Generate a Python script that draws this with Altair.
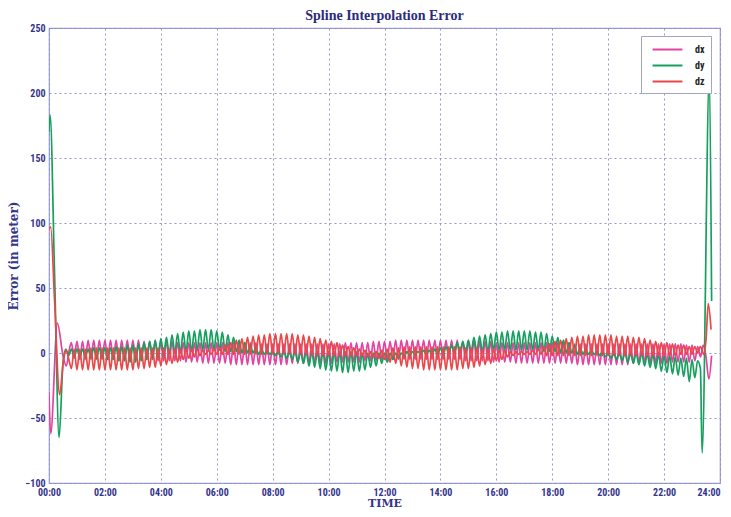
import altair as alt
import pandas as pd

SERIES = ["dx", "dy", "dz"]
COLORS = ["#e2449f", "#16a05e", "#ea4848"]
X_TICKS = [0, 2, 4, 6, 8, 10, 12, 14, 16, 18, 20, 22, 24]
Y_TICKS = [-100, -50, 0, 50, 100, 150, 200, 250]

# ---- start transient (hours, metres) ----
DX_START_T = [0.0, 0.06, 0.30, 0.50, 0.62, 0.72]
DX_START_V = [-30, -62, 23, -2, -10, 2]
DY_START_T = [0.0, 0.04, 0.20, 0.36, 0.50, 0.60, 0.70]
DY_START_V = [170, 183, 60, -65, -8, 3, -2]
DZ_START_T = [0.0, 0.06, 0.20, 0.38, 0.52, 0.62, 0.72]
DZ_START_V = [95, 97, 40, -32, -5, 2, -6]

# ---- end transient ----
DX_END_T = [23.30, 23.40, 23.50, 23.60, 23.70]
DX_END_V = [-3, 6, -3, -20, -2]
DY_END_T = [23.30, 23.36, 23.62, 23.70]
DY_END_V = [-12, -77, 214, 40]
DZ_END_T = [23.30, 23.42, 23.50, 23.58, 23.68]
DZ_END_V = [5, -1, 10, 38, 18]

# ---- oscillation extremes 00:48 .. 23:12 ----
# dx peaks at 0.8, 1.0, ... 23.2 ; troughs at 0.9, 1.1, ... 23.1
DX_PEAKS = [8, 9, 9, 10, 10, 10, 10, 10, 10, 10, 10, 10, 10, 9, 9,
            9, 9, 9, 9, 8, 8, 8, 8, 8, 8, 8, 8, 8, 8, 8,
            8, 8, 8, 8, 7, 7, 7, 7, 7, 7, 7, 7, 7, 7, 7,
            7, 7, 7, 7, 8, 8, 8, 8, 8, 9, 9, 9, 9, 10, 10,
            10, 10, 10, 10, 10, 10, 10, 10, 10, 10, 9, 9, 9, 9, 9,
            9, 8, 8, 8, 8, 8, 8, 8, 8, 8, 8, 8, 8, 8, 7,
            7, 7, 7, 7, 7, 7, 7, 7, 7, 7, 7, 7, 7, 7, 7,
            7, 7, 7, 7, 7, 6, 6, 5]
DX_TROUGHS = [-4, -5, -5, -5, -5, -5, -5, -5, -5, -5, -5, -5, -5, -5, -5,
              -6, -6, -6, -6, -6, -7, -7, -7, -8, -8, -8, -8, -8, -9, -9,
              -9, -9, -9, -9, -9, -9, -9, -9, -9, -8, -8, -8, -8, -8, -8,
              -8, -8, -7, -7, -7, -7, -7, -6, -6, -6, -5, -5, -5, -5, -5,
              -5, -5, -5, -5, -5, -5, -5, -5, -5, -5, -6, -6, -6, -6, -6,
              -7, -7, -7, -7, -8, -8, -8, -8, -8, -8, -8, -8, -8, -8, -8,
              -9, -9, -9, -9, -9, -9, -9, -9, -9, -9, -8, -8, -8, -8, -8,
              -8, -8, -7, -7, -7, -7, -6]

# dy peaks at 0.8 ... 23.2 ; troughs at 0.9 ... 23.1
DY_PEAKS = [3, 3, 3, 3, 4, 4, 4, 4, 5, 5, 6, 6, 7, 8, 9,
            10, 11, 12, 14, 15, 16, 17, 17, 18, 18, 18, 17, 16, 14, 12,
            10, 8, 6, 4, 3, 2, 1, 1, 1, 1, 1, 1, 1, 1, 1,
            1, 1, 1, 1, 1, 1, 1, 0, 0, 0, 0, 0, 0, 0, 0,
            1, 1, 1, 2, 2, 3, 4, 5, 6, 8, 9, 10, 12, 13, 14,
            15, 16, 16, 17, 17, 17, 17, 17, 16, 16, 15, 13, 12, 10, 8,
            6, 4, 3, 2, 1, 1, 0, 0, 0, 0, 0, 0, 0, -1, -1,
            -1, -2, -2, -3, -4, -4, -5, -6]
DY_TROUGHS = [-3, -3, -3, -4, -4, -4, -5, -5, -6, -6, -7, -7, -6, -5, -4,
              -3, -2, -1, 0, 0, 1, 1, 2, 2, 2, 2, 2, 1, 1, 1,
              0, 0, 0, -1, -1, -1, -2, -3, -4, -5, -7, -8, -10, -11, -12,
              -13, -14, -14, -15, -15, -14, -14, -13, -11, -10, -8, -7, -5, -4, -3,
              -2, -1, -1, -1, -1, -1, -1, 0, 0, 0, 0, 1, 1, 1, 1,
              2, 2, 2, 2, 2, 2, 2, 2, 2, 1, 1, 1, 0, 0, 0,
              -1, -1, -1, -1, -2, -3, -4, -5, -6, -7, -8, -9, -10, -11, -12,
              -14, -15, -16, -17, -18, -22, -19]

# dz troughs at 0.8 ... 23.2 ; peaks at 0.9 ... 23.1 (opposite phase to dx)
DZ_TROUGHS = [-12, -13, -13, -13, -13, -13, -13, -13, -13, -13, -13, -13, -12, -12, -11,
              -11, -10, -9, -8, -7, -5, -4, -3, -2, -1, -1, -1, -1, -1, -1,
              -1, -1, -1, -1, -1, -1, -1, -1, -1, -1, -1, -1, -1, -2, -2,
              -2, -2, -2, -2, -2, -2, -2, -2, -3, -3, -4, -5, -7, -8, -10,
              -11, -12, -12, -13, -13, -13, -13, -13, -13, -13, -12, -12, -11, -10, -9,
              -8, -6, -5, -3, -2, -1, -1, -1, -1, -1, -2, -2, -2, -2, -2,
              -2, -2, -2, -2, -2, -2, -2, -2, -2, -2, -2, -2, -2, -2, -2,
              -2, -2, -2, -2, -1, -1, -1, 0]
DZ_PEAKS = [3, 3, 3, 4, 4, 4, 4, 4, 4, 4, 4, 4, 4, 4, 4,
            4, 4, 3, 3, 3, 3, 3, 3, 2, 2, 3, 4, 6, 8, 10,
            11, 12, 13, 14, 14, 15, 15, 15, 15, 15, 14, 14, 13, 12, 11,
            10, 9, 8, 6, 5, 4, 3, 2, 1, 1, 2, 3, 4, 4, 5,
            5, 5, 5, 5, 5, 5, 5, 5, 5, 5, 4, 4, 4, 3, 3,
            3, 2, 2, 1, 1, 1, 1, 2, 3, 5, 7, 9, 10, 11, 12,
            13, 13, 14, 14, 14, 14, 14, 13, 13, 13, 12, 12, 11, 10, 9,
            8, 8, 7, 6, 6, 5, 5]


def interleave(first, second):
    out = []
    for i, v in enumerate(first):
        out.append(v)
        if i < len(second):
            out.append(second[i])
    return out


MID_T = [round(0.8 + 0.1 * i, 1) for i in range(225)]

rows = []
def add(name, st, sv, mid, et, ev):
    ts = st + MID_T + et
    vs = sv + mid + ev
    for t, v in zip(ts, vs):
        rows.append({"series": name, "t": t, "v": v})

add("dx", DX_START_T, DX_START_V, interleave(DX_PEAKS, DX_TROUGHS), DX_END_T, DX_END_V)
add("dy", DY_START_T, DY_START_V, interleave(DY_PEAKS, DY_TROUGHS), DY_END_T, DY_END_V)
add("dz", DZ_START_T, DZ_START_V, interleave(DZ_TROUGHS, DZ_PEAKS), DZ_END_T, DZ_END_V)
df = pd.DataFrame(rows)

NAVY = "#34348c"
LABEL_FONT = "Liberation Sans Narrow, Roboto Condensed, Liberation Sans, sans-serif"
TITLE_FONT = "DejaVu Serif, serif"

chart = alt.Chart(df).mark_line(strokeWidth=1.7, interpolate="monotone", clip=True).encode(
    x=alt.X("t:Q",
            scale=alt.Scale(domain=[0, 24], nice=False, zero=False),
            axis=alt.Axis(values=X_TICKS, title="TIME",
                          labelExpr="(datum.value < 10 ? '0' : '') + datum.value + ':00'",
                          labelAlign={"condition": {"test": "datum.value == 24", "value": "right"},
                                      "value": "center"},
                          labelFlush=False, labelPadding=4, titlePadding=0,
                          titleFontSize=11)),
    y=alt.Y("v:Q",
            scale=alt.Scale(domain=[-100, 250], nice=False, zero=False),
            axis=alt.Axis(values=Y_TICKS, title="Error (in meter)",
                          labelPadding=4, titlePadding=5)),
    color=alt.Color("series:N",
                    scale=alt.Scale(domain=SERIES, range=COLORS),
                    legend=alt.Legend(title=None, orient="none", legendX=592, legendY=8,
                                      fillColor="white", strokeColor="#a4a4c8",
                                      padding=6, rowPadding=3,
                                      symbolType="M-2.3,0H2.3", symbolSize=169,
                                      symbolStrokeWidth=2, symbolOffset=13,
                                      labelOffset=20,
                                      labelFont=LABEL_FONT, labelFontSize=10,
                                      labelFontWeight="bold", labelColor="#222222")),
).properties(
    width=671, height=455,
    title=alt.TitleParams("Spline Interpolation Error", font="Liberation Serif, serif",
                          fontSize=14, fontWeight="bold", color="#2b2b7c",
                          offset=0, frame="group"),
    autosize=alt.AutoSizeParams(type="none"),
    padding={"left": 41, "top": 20, "right": 3, "bottom": 26},
).configure_view(
    stroke="#9c9cd2", strokeWidth=1.2
).configure_axis(
    domain=False, ticks=False,
    grid=True, gridColor="#8c8cc8", gridDash=[2, 3], gridWidth=1, gridOpacity=0.9,
    labelFont=LABEL_FONT, labelFontSize=10, labelFontWeight="bold", labelColor=NAVY,
    titleFont=TITLE_FONT, titleFontSize=12, titleFontWeight="bold", titleColor=NAVY,
)

chart.save("out.html", embed_options={"renderer": "svg", "actions": False})
